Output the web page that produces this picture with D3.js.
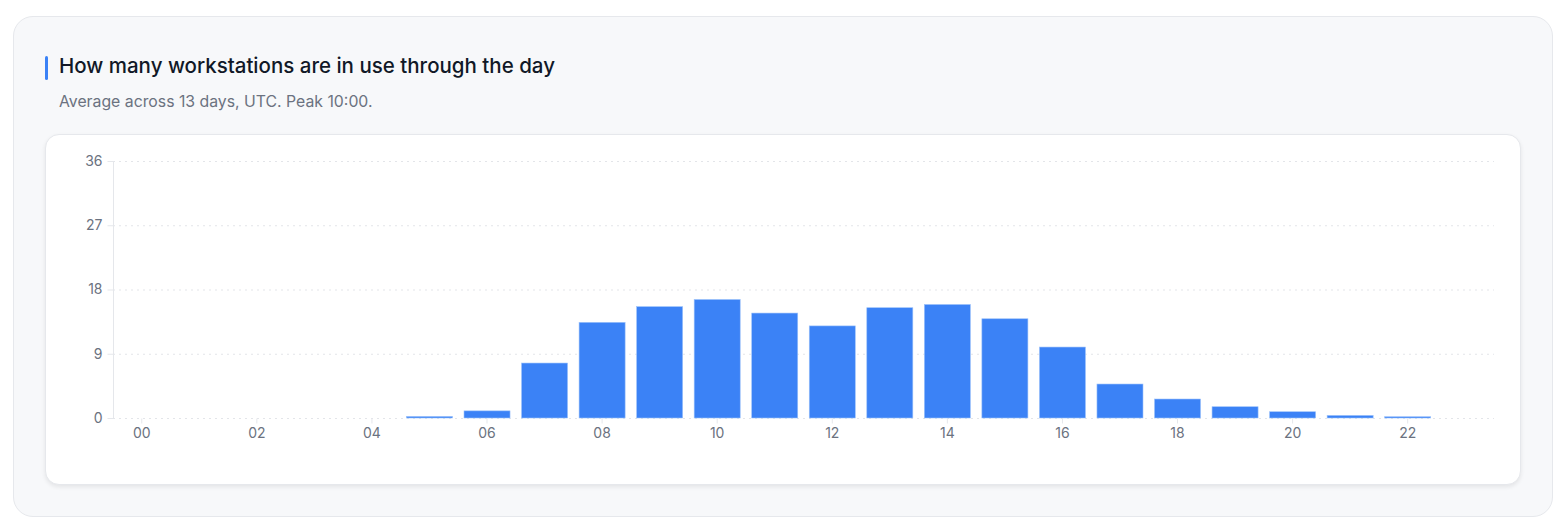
<!DOCTYPE html>
<html>
<head>
<meta charset="utf-8">
<script src="https://cdn.jsdelivr.net/npm/d3@7/dist/d3.min.js"></script>
<style>
  html, body { margin: 0; padding: 0; background: #ffffff; width: 1568px; height: 520px; overflow: hidden; font-family: Inter, "Noto Sans", sans-serif; }
  .outer { position: absolute; left: 13px; top: 16px; width: 1538px; height: 499px; background: #f7f8fa; border: 1px solid #e6e8ec; border-radius: 20px; }
  .inner { position: absolute; left: 45px; top: 134px; width: 1474px; height: 349px; background: #ffffff; border: 1px solid #e6e8ec; border-radius: 14px; box-shadow: 0 2px 4px rgba(0,0,0,0.08); }
  svg { position: absolute; left: 0; top: 0; }
</style>
</head>
<body>
<div class="outer"></div>
<div class="inner"></div>
<svg id="chart" width="1568" height="520"></svg>
<script>
const title = "How many workstations are in use through the day";
const subtitle = "Average across 13 days, UTC. Peak 10:00.";
const hours = ["00","01","02","03","04","05","06","07","08","09","10","11","12","13","14","15","16","17","18","19","20","21","22","23"];
const values = [0, 0, 0, 0, 0, 0.22, 1.0, 7.7, 13.4, 15.6, 16.6, 14.7, 12.9, 15.45, 15.9, 13.9, 9.94, 4.76, 2.66, 1.58, 0.88, 0.36, 0.18, 0];
const yTicks = [0, 9, 18, 27, 36];
const xTickLabels = ["00","02","04","06","08","10","12","14","16","18","20","22"];

const svg = d3.select("#chart");

// header
svg.append("rect").attr("x", 45).attr("y", 56).attr("width", 3).attr("height", 24).attr("rx", 1.5).attr("fill", "#3b82f6");
svg.append("text").attr("x", 59).attr("y", 73).text(title)
  .attr("font-size", 20.5).attr("font-weight", 500).attr("fill", "#111827");
svg.append("text").attr("x", 59).attr("y", 107).text(subtitle)
  .attr("font-size", 15.8).attr("fill", "#6b7280");

const x = d3.scaleBand().domain(hours).range([113, 1494]).paddingInner(0.2).paddingOuter(0.1);
const y = d3.scaleLinear().domain([0, 36]).range([418, 161]);

// gridlines
const g = svg.append("g");
g.selectAll("line.grid").data(yTicks).join("line")
  .attr("x1", 113).attr("x2", 1494)
  .attr("y1", d => y(d) + 0.5).attr("y2", d => y(d) + 0.5)
  .attr("stroke", "#e3e5e9").attr("stroke-dasharray", "2,4");

// y axis
const yAxis = svg.append("g").attr("transform", "translate(113.5,0)")
  .call(d3.axisLeft(y).tickValues(yTicks).tickSize(6).tickPadding(5));
yAxis.select(".domain").attr("stroke", "#e5e7eb").attr("d", `M0,${y(36)}V${y(0)}`);
yAxis.selectAll(".tick line").attr("stroke", "#e5e7eb");
yAxis.selectAll("text").attr("font-size", 14).attr("fill", "#6b7280").attr("font-family", "Inter, sans-serif");

// bars
svg.append("g").selectAll("rect").data(hours).join("rect")
  .attr("x", d => x(d))
  .attr("width", x.bandwidth())
  .attr("y", (d, i) => y(values[i]))
  .attr("height", (d, i) => y(0) - y(values[i]))
  .attr("fill", "#3b82f6")
  .attr("stroke", "#9cc2fa").attr("stroke-width", 0.6);

// x axis
const xAxis = svg.append("g").attr("transform", "translate(0,418.5)")
  .call(d3.axisBottom(x).tickValues(xTickLabels).tickSize(5).tickPadding(5));
xAxis.select(".domain").remove();
xAxis.selectAll(".tick line").attr("stroke", "#e5e7eb");
xAxis.selectAll("text").attr("font-size", 14).attr("fill", "#6b7280").attr("font-family", "Inter, sans-serif");
</script>
</body>
</html>
